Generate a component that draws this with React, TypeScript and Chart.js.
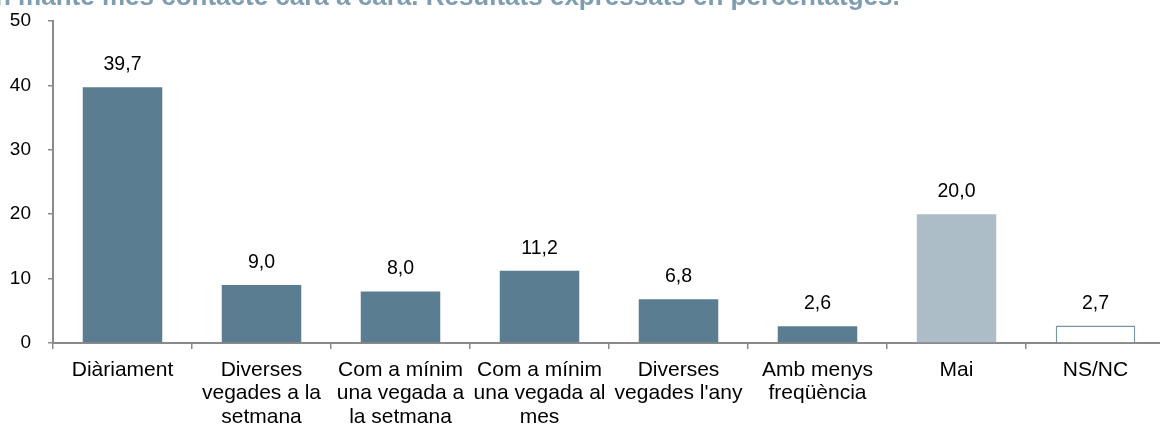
import React, { useEffect, useRef } from "react";
import { Chart, registerables } from "chart.js";

Chart.register(...registerables);

const titleText = "n manté més contacte cara a cara. Resultats expressats en percentatges.";
const categories: string[][] = [
  ["Diàriament"],
  ["Diverses", "vegades a la", "setmana"],
  ["Com a mínim", "una vegada a", "la setmana"],
  ["Com a mínim", "una vegada al", "mes"],
  ["Diverses", "vegades l'any"],
  ["Amb menys", "freqüència"],
  ["Mai"],
  ["NS/NC"],
];
const values: number[] = [39.7, 9.0, 8.0, 11.2, 6.8, 2.6, 20.0, 2.7];
const fillColors: string[] = ["#5b7d91", "#5b7d91", "#5b7d91", "#5b7d91", "#5b7d91", "#5b7d91", "#adbdc7", "#ffffff"];
const edgeColors: string[] = ["#5b7d91", "#5b7d91", "#5b7d91", "#5b7d91", "#5b7d91", "#5b7d91", "#adbdc7", "#7896a8"];
const edgeWidths: number[] = [0, 0, 0, 0, 0, 0, 0, 1.5];
const yTicks: number[] = [0, 10, 20, 30, 40, 50];

const FONT = '"Liberation Sans", Arial, sans-serif';

const labelPlugin = {
  id: "valueLabels",
  afterDatasetsDraw(chart: any) {
    const ctx = chart.ctx;
    const meta = chart.getDatasetMeta(0);
    ctx.save();
    ctx.font = `19.5px ${FONT}`;
    ctx.fillStyle = "#000000";
    ctx.textAlign = "center";
    ctx.textBaseline = "alphabetic";
    meta.data.forEach((bar: any, i: number) => {
      ctx.fillText(values[i].toFixed(1).replace(".", ","), bar.x, bar.y - 17);
    });
    ctx.restore();
  },
};

const titlePlugin = {
  id: "clippedTitle",
  afterDraw(chart: any) {
    const ctx = chart.ctx;
    ctx.save();
    ctx.font = `bold 26px ${FONT}`;
    ctx.fillStyle = "#7f9db0";
    ctx.textAlign = "left";
    ctx.textBaseline = "alphabetic";
    ctx.fillText(titleText, -5, 5);
    ctx.restore();
  },
};

export default function App() {
  const ref = useRef<HTMLCanvasElement | null>(null);
  useEffect(() => {
    if (!ref.current) return;
    const chart = new Chart(ref.current, {
      type: "bar",
      data: {
        labels: categories,
        datasets: [
          {
            data: values,
            backgroundColor: fillColors,
            borderColor: edgeColors,
            borderWidth: edgeWidths,
            barPercentage: 0.572,
            categoryPercentage: 1,
          },
        ],
      },
      options: {
        animation: false,
        responsive: false,
        devicePixelRatio: 1,
        layout: { padding: { top: 21, right: 10, bottom: 0, left: 0 } },
        plugins: { legend: { display: false }, tooltip: { enabled: false }, title: { display: false } },
        scales: {
          x: {
            afterFit: (s: any) => {
              s.height = 84;
            },
            grid: { drawOnChartArea: false, drawTicks: true, tickLength: 6, color: "#8a8a8a", lineWidth: 1.5, offset: true },
            border: { color: "#8a8a8a", width: 2 },
            ticks: {
              color: "#000000",
              font: { family: FONT, size: 21, lineHeight: 1.13 },
              padding: 9,
              maxRotation: 0,
              autoSkip: false,
            },
          },
          y: {
            min: 0,
            max: 50,
            afterFit: (s: any) => {
              s.width = 53;
              s.paddingTop = 0;
              s.paddingBottom = 0;
            },
            afterBuildTicks: (s: any) => {
              s.ticks = yTicks.map((v) => ({ value: v }));
            },
            grid: { drawOnChartArea: false, drawTicks: true, tickLength: 5, color: "#8a8a8a", lineWidth: 1.5 },
            border: { color: "#8a8a8a", width: 2 },
            ticks: {
              color: "#000000",
              font: { family: FONT, size: 19 },
              padding: 17,
            },
          },
        },
      },
      plugins: [labelPlugin, titlePlugin],
    });
    return () => chart.destroy();
  }, []);
  return (
    <div
      style={{
        position: "fixed",
        left: 0,
        top: 0,
        width: 1160,
        height: 427,
        overflow: "hidden",
        background: "#ffffff",
      }}
    >
      <canvas ref={ref} width={1175} height={427} style={{ display: "block", width: 1175, height: 427 }} />
    </div>
  );
}
